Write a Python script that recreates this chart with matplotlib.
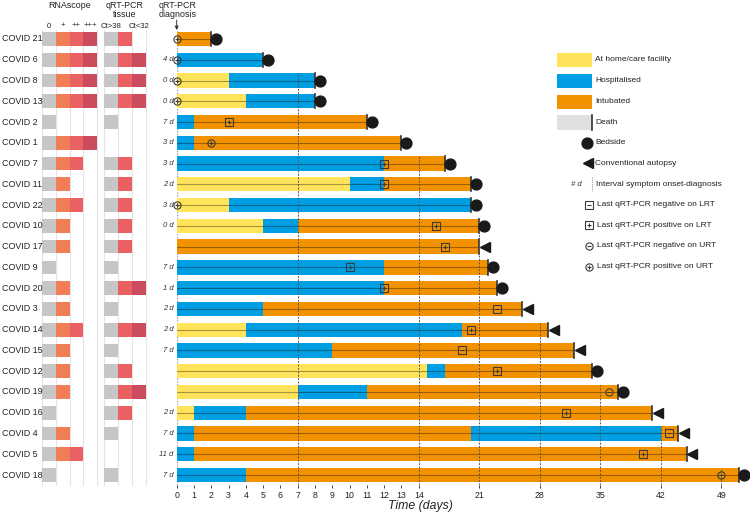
import numpy as np
import matplotlib.pyplot as plt
from matplotlib.patches import Rectangle
from matplotlib.transforms import offset_copy

plt.rcParams['font.family'] = ['Liberation Sans', 'DejaVu Sans']

# patients, top to bottom
patients = ['COVID 21', 'COVID 6', 'COVID 8', 'COVID 13', 'COVID 2', 'COVID 1',
            'COVID 7', 'COVID 11', 'COVID 22', 'COVID 10', 'COVID 17', 'COVID 9',
            'COVID 20', 'COVID 3', 'COVID 14', 'COVID 15', 'COVID 12', 'COVID 19',
            'COVID 16', 'COVID 4', 'COVID 5', 'COVID 18']

# interval symptom onset -> diagnosis
onset_label = ['', '4 d', '0 d', '0 d', '7 d', '3 d', '3 d', '2 d', '3 d', '0 d', '',
               '7 d', '1 d', '2 d', '2 d', '7 d', '', '', '2 d', '7 d', '11 d', '7 d']

# clinical course: (state, start day, end day); H = home, B = hospital, I = intubated
segments = [
    [('I', 0, 2)],
    [('B', 0, 5)],
    [('H', 0, 3), ('B', 3, 8)],
    [('H', 0, 4), ('B', 4, 8)],
    [('B', 0, 1), ('I', 1, 11)],
    [('B', 0, 1), ('I', 1, 13)],
    [('B', 0, 12), ('I', 12, 17)],
    [('H', 0, 10), ('B', 10, 12), ('I', 12, 20)],
    [('H', 0, 3), ('B', 3, 20)],
    [('H', 0, 5), ('B', 5, 7), ('I', 7, 21)],
    [('I', 0, 21)],
    [('B', 0, 12), ('I', 12, 22)],
    [('B', 0, 12), ('I', 12, 23)],
    [('B', 0, 5), ('I', 5, 26)],
    [('H', 0, 4), ('B', 4, 19), ('I', 19, 29)],
    [('B', 0, 9), ('I', 9, 32)],
    [('H', 0, 15), ('B', 15, 17), ('I', 17, 34)],
    [('H', 0, 7), ('B', 7, 11), ('I', 11, 37)],
    [('H', 0, 1), ('B', 1, 4), ('I', 4, 41)],
    [('B', 0, 1), ('I', 1, 20), ('B', 20, 42), ('I', 42, 44)],
    [('B', 0, 1), ('I', 1, 45)],
    [('B', 0, 4), ('I', 4, 51)],
]

# last qRT-PCR result
pcr_kind = ['URT+', 'URT+', 'URT+', 'URT+', 'LRT+', 'URT+', 'LRT+', 'LRT+', 'URT+', 'LRT+',
            'LRT+', 'LRT+', 'LRT+', 'LRT-', 'LRT+', 'LRT-', 'LRT+', 'URT-', 'LRT+', 'LRT-',
            'LRT+', 'URT-']
pcr_day = [0, 0, 0, 0, 3, 2, 12, 12, 0, 16, 17, 10, 12, 23, 20, 19, 23, 36, 31, 43, 40, 49]

outcome = ['bedside'] * 10 + ['autopsy', 'bedside', 'bedside', 'autopsy', 'autopsy',
                              'autopsy', 'bedside', 'bedside', 'autopsy', 'autopsy',
                              'autopsy', 'bedside']

# RNAscope score (0..3) and tissue qRT-PCR class (0..2, -1 = none)
rna_level = [3, 3, 3, 3, 0, 3, 2, 1, 2, 1, 1, 0, 1, 1, 2, 1, 1, 1, 0, 1, 2, 0]
pcr_tissue = [1, 2, 2, 2, 0, -1, 1, 1, 1, 1, 1, 0, 2, 0, 2, 0, 1, 2, 1, 0, -1, 0]

rna_ticks = ['0', '+', '++', '+++']
pcr_ticks = ['Ct>38', '', 'Ct<32']
day_ticks = list(range(15)) + [21, 28, 35, 42, 49]

state_col = {'H': '#FFE35B', 'B': '#009FE3', 'I': '#F39200'}
rna_col = ['#C6C6C6', '#F07D56', '#EA6063', '#CB4C5C']
pcr_col = ['#C6C6C6', '#EA6063', '#CB4C5C']
edge = '#3a3a3a'

W, H = 750, 513
fig = plt.figure(figsize=(W / 100, H / 100), dpi=100)

y_top, y_bot = 28.6, 485.4
x0, x1 = 176.7, 745.5
ax = fig.add_axes([x0 / W, 1 - y_bot / H, (x1 - x0) / W, (y_bot - y_top) / H])


def fwd(x):
    x = np.asarray(x, dtype=float)
    return np.where(x <= 14, x, 14 + (x - 14) / 2)


def inv(y):
    y = np.asarray(y, dtype=float)
    return np.where(y <= 14, y, 14 + (y - 14) * 2)


ax.set_xscale('function', functions=(fwd, inv))
n = len(patients)
ax.set_xlim(0, 51.8)
ax.set_ylim(n - 0.5, -0.5)

bh = 0.69
ends = [s[-1][2] for s in segments]
dot_tr = offset_copy(ax.transData, fig=fig, x=5, y=0, units='dots')
tri_tr = offset_copy(ax.transData, fig=fig, x=5.5, y=0, units='dots')
lab_tr = offset_copy(ax.transData, fig=fig, x=-3, y=0, units='dots')

ax.plot([0, 0], [n - 0.5, -0.5], color='#9a9a9a', lw=1, ls=(0, (1, 1)), zorder=1)

for i, segs in enumerate(segments):
    for st, s, e in segs:
        ax.barh(i, e - s, left=s, height=bh, color=state_col[st], lw=0, zorder=2)
    end = ends[i]
    ax.plot([0, end], [i, i], color='k', alpha=0.35, lw=0.8, zorder=3)
    ax.plot([end, end], [i - bh / 2, i + bh / 2], color='#333333', lw=1.2, zorder=4)

    k = pcr_kind[i]
    shape = 's' if k.startswith('L') else 'o'
    inner = '+' if k.endswith('+') else '_'
    ax.plot(pcr_day[i], i, marker=shape, ms=5.2, mfc='none', mec=edge, mew=0.8,
            zorder=6, clip_on=False)
    ax.plot(pcr_day[i], i, marker=inner, ms=3.2, mec=edge, mew=0.8, zorder=6, clip_on=False)

    if outcome[i] == 'bedside':
        ax.plot(end, i, marker='o', ms=7.8, color='#1a1a1a', transform=dot_tr,
                zorder=5, clip_on=False)
    else:
        ax.plot(end, i, marker='<', ms=6.8, color='#1a1a1a', transform=tri_tr,
                zorder=5, clip_on=False)

    if onset_label[i]:
        ax.text(0, i, onset_label[i], transform=lab_tr, ha='right', va='center',
                fontsize=5.5, style='italic', color='#333333')

# weekly guide lines, from the bottom up to the first bar reaching that day
for d in [7, 14, 21, 28, 35, 42, 49]:
    first = next(i for i, e in enumerate(ends) if e >= d)
    ax.plot([d, d], [n - 0.5, first - bh / 2], color='#555555', lw=0.7,
            ls=(0, (2, 1.5)), zorder=4)

ax.set_xticks(day_ticks)
ax.set_xticklabels([str(t) for t in day_ticks])
ax.set_yticks([])
ax.tick_params(axis='x', labelsize=6.3, length=2.5, width=0.6, pad=1.5, colors='#222222')
for sp in ax.spines.values():
    sp.set_visible(False)
ax.set_facecolor('none')
ax.set_xlabel('Time (days)', fontsize=8.8, style='italic', color='#222222')
ax.xaxis.set_label_coords((420 - x0) / (x1 - x0), -0.032)

# heatmap columns on the left
hx0, cw = 41.7, 13.9
axh = fig.add_axes([hx0 / W, 1 - y_bot / H, 7.5 * cw / W, (y_bot - y_top) / H])
axh.set_xlim(0, 7.5)
axh.set_ylim(n - 0.5, -0.5)
axh.axis('off')
for c in [0, 1, 2, 3, 4, 4.5, 5.5, 6.5, 7.5]:
    axh.plot([c, c], [n - 0.5, -0.45], color='#e4e4e4', lw=0.8, zorder=0, clip_on=False)
for i in range(n):
    for c in range(rna_level[i] + 1):
        axh.add_patch(Rectangle((c, i - 0.33), 1, 0.66, color=rna_col[c], lw=0, zorder=2))
    for c in range(pcr_tissue[i] + 1):
        axh.add_patch(Rectangle((4.5 + c, i - 0.33), 1, 0.66, color=pcr_col[c], lw=0, zorder=2))
    axh.text(-2.85, i, patients[i], ha='left', va='center', fontsize=6.4, color='#222222')

# overlay in pixel coordinates for headers and legend
ov = fig.add_axes([0, 0, 1, 1])
ov.set_xlim(0, W)
ov.set_ylim(H, 0)
ov.axis('off')
hdr = dict(ha='center', va='center', fontsize=6.4, color='#222222')
ov.text(70, 5, 'RNAscope', **hdr)
ov.text(125, 5, 'qRT-PCR', **hdr)
ov.text(125, 14.5, 'tissue', **hdr)
ov.text(178, 5, 'qRT-PCR', **hdr)
ov.text(178, 14.5, 'diagnosis', **hdr)
for c, t in enumerate(rna_ticks):
    ov.text(hx0 + cw * (c + 0.5), 26, t, ha='center', va='center', fontsize=5.6, color='#222222')
for c, t in enumerate(pcr_ticks):
    ov.text(hx0 + cw * (c + 5), 26, t, ha='center', va='center', fontsize=5.6, color='#222222')
ov.annotate('', xy=(x0, 30), xytext=(x0, 20),
            arrowprops=dict(arrowstyle='-|>', color='#333333', lw=0.7,
                            mutation_scale=5, shrinkA=0, shrinkB=0))

lt = dict(ha='left', va='center', fontsize=6, color='#222222')
leg_states = [('H', 'At home/care facility'), ('B', 'Hospitalised'), ('I', 'Intubated')]
for j, (st, name) in enumerate(leg_states):
    yy = 52.5 + 21 * j
    ov.add_patch(Rectangle((557, yy), 35, 14.5, color=state_col[st], lw=0))
    ov.text(595, yy + 7.3, name, **lt)
ov.add_patch(Rectangle((557, 115), 35, 14.5, color='#E0E0E0', lw=0))
ov.plot([592, 592], [115, 129.5], color='#333333', lw=1.2)
ov.text(595, 122, 'Death', **lt)
ov.plot(587, 142.7, marker='o', ms=7.8, color='#1a1a1a')
ov.text(595, 142.7, 'Bedside', **lt)
ov.plot(588, 163.3, marker='<', ms=6.8, color='#1a1a1a')
ov.text(595, 163.3, 'Conventional autopsy', **lt)
ov.text(582, 184, '# d', ha='right', va='center', fontsize=5.5, style='italic', color='#333333')
ov.plot([591.5, 591.5], [177, 191], color='#9a9a9a', lw=0.8, ls=(0, (1, 1)))
ov.text(596, 184, 'Interval symptom onset-diagnosis', **lt)
leg_pcr = [('LRT-', 'Last qRT-PCR negative on LRT'), ('LRT+', 'Last qRT-PCR positive on LRT'),
           ('URT-', 'Last qRT-PCR negative on URT'), ('URT+', 'Last qRT-PCR positive on URT')]
for j, (k, name) in enumerate(leg_pcr):
    yy = 204.5 + 20.7 * j
    shape = 's' if k.startswith('L') else 'o'
    inner = '+' if k.endswith('+') else '_'
    ov.plot(588.5, yy, marker=shape, ms=5.2, mfc='none', mec=edge, mew=0.8)
    ov.plot(588.5, yy, marker=inner, ms=3.2, mec=edge, mew=0.8)
    ov.text(597, yy, name, **lt)

fig.savefig('out.png', dpi=100)
